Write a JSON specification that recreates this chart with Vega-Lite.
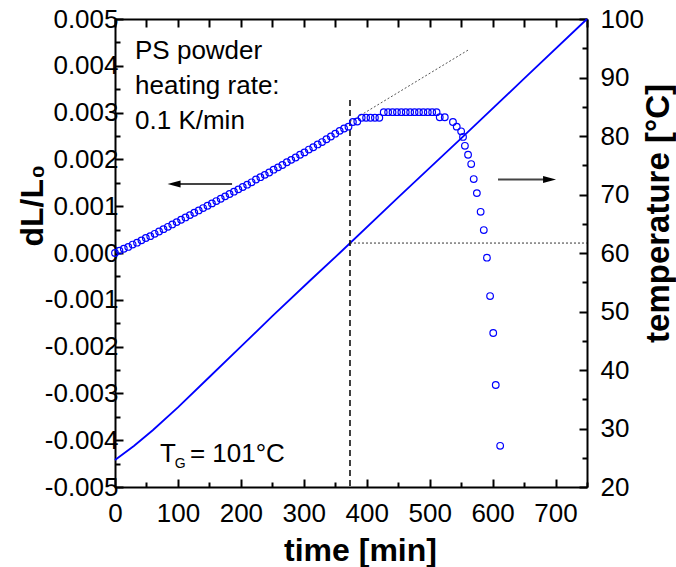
{
  "$schema": "https://vega.github.io/schema/vega-lite/v6.json",
  "width": 472,
  "height": 468,
  "autosize": {"type": "none"},
  "padding": {"left": 115, "top": 19, "right": 89, "bottom": 80},
  "background": "white",
  "config": {
    "view": {"stroke": null},
    "axis": {
      "labelFont": "Liberation Sans",
      "titleFont": "Liberation Sans",
      "labelFontSize": 26,
      "labelColor": "black",
      "titleColor": "black",
      "domainColor": "black",
      "tickColor": "black",
      "domainWidth": 2,
      "tickWidth": 2,
      "grid": false
    },
    "text": {"font": "Liberation Sans"}
  },
  "datasets": {
    "dl": [
      {"t": 0, "d": 0.0}, {"t": 7, "d": 0.00005}, {"t": 14, "d": 0.00009}, {"t": 21, "d": 0.00013},
      {"t": 28, "d": 0.00018}, {"t": 35, "d": 0.00022}, {"t": 42, "d": 0.00027}, {"t": 49, "d": 0.00032},
      {"t": 56, "d": 0.00036}, {"t": 63, "d": 0.00041}, {"t": 70, "d": 0.00046}, {"t": 77, "d": 0.00051},
      {"t": 84, "d": 0.00056}, {"t": 91, "d": 0.00061}, {"t": 98, "d": 0.00066}, {"t": 105, "d": 0.00071},
      {"t": 112, "d": 0.00076}, {"t": 119, "d": 0.00081}, {"t": 126, "d": 0.00086}, {"t": 133, "d": 0.00091},
      {"t": 140, "d": 0.00096}, {"t": 147, "d": 0.00101}, {"t": 154, "d": 0.00106}, {"t": 161, "d": 0.00111},
      {"t": 168, "d": 0.00116}, {"t": 175, "d": 0.00121}, {"t": 182, "d": 0.00126}, {"t": 189, "d": 0.00131},
      {"t": 196, "d": 0.00136}, {"t": 203, "d": 0.00141}, {"t": 210, "d": 0.00146}, {"t": 217, "d": 0.00151},
      {"t": 224, "d": 0.00157}, {"t": 231, "d": 0.00162}, {"t": 238, "d": 0.00167}, {"t": 245, "d": 0.00172},
      {"t": 252, "d": 0.00178}, {"t": 259, "d": 0.00183}, {"t": 266, "d": 0.00188}, {"t": 273, "d": 0.00194},
      {"t": 280, "d": 0.00199}, {"t": 287, "d": 0.00204}, {"t": 294, "d": 0.0021}, {"t": 301, "d": 0.00215},
      {"t": 308, "d": 0.00221}, {"t": 315, "d": 0.00226}, {"t": 322, "d": 0.00232}, {"t": 329, "d": 0.00237},
      {"t": 336, "d": 0.00243}, {"t": 343, "d": 0.00249}, {"t": 350, "d": 0.00255}, {"t": 357, "d": 0.00261},
      {"t": 364, "d": 0.00266}, {"t": 371, "d": 0.0027}, {"t": 378, "d": 0.0028}, {"t": 385, "d": 0.00281},
      {"t": 392, "d": 0.00289}, {"t": 399, "d": 0.00289}, {"t": 406, "d": 0.00289}, {"t": 413, "d": 0.00289},
      {"t": 420, "d": 0.00289}, {"t": 427, "d": 0.00301}, {"t": 434, "d": 0.00301}, {"t": 441, "d": 0.00301},
      {"t": 448, "d": 0.00301}, {"t": 455, "d": 0.00301}, {"t": 462, "d": 0.00301}, {"t": 469, "d": 0.00301},
      {"t": 476, "d": 0.00301}, {"t": 483, "d": 0.00301}, {"t": 490, "d": 0.00301}, {"t": 497, "d": 0.00301},
      {"t": 504, "d": 0.00301}, {"t": 511, "d": 0.00301}, {"t": 516, "d": 0.0029}, {"t": 524, "d": 0.0029},
      {"t": 537, "d": 0.0028}, {"t": 543, "d": 0.0027}, {"t": 550, "d": 0.0026}, {"t": 553, "d": 0.00248},
      {"t": 556, "d": 0.00229}, {"t": 561, "d": 0.0021}, {"t": 566, "d": 0.0019}, {"t": 570, "d": 0.00158},
      {"t": 575, "d": 0.00128}, {"t": 581, "d": 0.00088}, {"t": 586, "d": 0.00049}, {"t": 591, "d": -0.0001},
      {"t": 596, "d": -0.00092}, {"t": 601, "d": -0.00171}, {"t": 605, "d": -0.00282}, {"t": 612, "d": -0.00412}
    ],
    "temp": [
      {"t": 0, "T": 24.6}, {"t": 30, "T": 27.0}, {"t": 60, "T": 29.7}, {"t": 100, "T": 33.6},
      {"t": 150, "T": 38.8}, {"t": 200, "T": 44.0}, {"t": 250, "T": 49.2}, {"t": 310, "T": 55.3},
      {"t": 357, "T": 60.0}, {"t": 450, "T": 69.5}, {"t": 550, "T": 79.6}, {"t": 650, "T": 89.8},
      {"t": 750, "T": 100.0}
    ]
  },
  "layer": [
    {
      "data": {"name": "temp"},
      "mark": {"type": "line", "color": "#0000ff", "strokeWidth": 1.8},
      "encoding": {
        "x": {"field": "t", "type": "quantitative", "scale": {"domain": [0, 750], "nice": false, "zero": false},
          "axis": {"orient": "top", "values": [0, 50, 100, 150, 200, 250, 300, 350, 400, 450, 500, 550, 600, 650, 700, 750],
            "tickSize": -8, "labels": false, "title": null}},
        "y": {"field": "T", "type": "quantitative", "scale": {"domain": [20, 100], "nice": false, "zero": false},
          "axis": {"orient": "right", "values": [20, 30, 40, 50, 60, 70, 80, 90, 100], "tickSize": -8,
            "labelPadding": 21, "labelFlush": false, "labelOverlap": false,
            "title": "temperature [°C]", "titleFontSize": 33, "titleFontWeight": "bold", "titleAngle": -90,
            "titleX": 81, "titleY": 194, "titleBaseline": "alphabetic", "titleAlign": "center"}}
      }
    },
    {
      "data": {"values": [{"t": 373.4, "d1": 0.00327, "d2": -0.005}]},
      "mark": {"type": "rule", "strokeDash": [6, 4], "strokeWidth": 1.5, "color": "black"},
      "encoding": {
        "x": {"field": "t", "type": "quantitative", "scale": {"domain": [0, 750], "nice": false, "zero": false},
          "axis": {"orient": "bottom", "values": [50, 150, 250, 350, 450, 550, 650, 750], "tickSize": -5,
            "labels": false, "domain": false, "title": null}},
        "y": {"field": "d1", "type": "quantitative", "scale": {"domain": [-0.005, 0.005], "nice": false, "zero": false},
          "axis": {"orient": "left", "values": [-0.0045, -0.0035, -0.0025, -0.0015, -0.0005, 0.0005, 0.0015, 0.0025, 0.0035, 0.0045],
            "tickSize": -5, "labels": false, "domain": false, "title": null}},
        "y2": {"field": "d2"}
      }
    },
    {
      "data": {"values": [{"t1": 373.4, "t2": 750, "T": 61.7}]},
      "mark": {"type": "rule", "strokeDash": [2, 2], "strokeWidth": 1, "color": "#333333"},
      "encoding": {
        "x": {"field": "t1", "type": "quantitative", "scale": {"domain": [0, 750], "nice": false, "zero": false}, "axis": null},
        "x2": {"field": "t2"},
        "y": {"field": "T", "type": "quantitative", "scale": {"domain": [20, 100], "nice": false, "zero": false},
          "axis": {"orient": "right", "values": [25, 35, 45, 55, 65, 75, 85, 95], "tickSize": -5,
            "labels": false, "domain": false, "title": null}}
      }
    },
    {
      "data": {"values": [{"t": 373.4, "d": 0.002806}, {"t": 561.3, "d": 0.004338}]},
      "mark": {"type": "line", "strokeDash": [2, 2], "strokeWidth": 1, "color": "#555555"},
      "encoding": {
        "x": {"field": "t", "type": "quantitative", "scale": {"domain": [0, 750], "nice": false, "zero": false}, "axis": null},
        "y": {"field": "d", "type": "quantitative", "scale": {"domain": [-0.005, 0.005], "nice": false, "zero": false}, "axis": null}
      }
    },
    {
      "data": {"name": "dl"},
      "mark": {"type": "point", "shape": "circle", "filled": false, "stroke": "#0000ff", "strokeWidth": 1.2, "size": 44, "opacity": 1},
      "encoding": {
        "x": {"field": "t", "type": "quantitative", "scale": {"domain": [0, 750], "nice": false, "zero": false},
          "axis": {"orient": "bottom", "values": [0, 100, 200, 300, 400, 500, 600, 700], "tickSize": -8,
            "labelPadding": 42, "labelBaseline": "alphabetic", "labelFlush": false, "labelOverlap": false,
            "title": "time [min]", "titleFontSize": 32, "titleFontWeight": "bold",
            "titleX": 245, "titleY": 73, "titleBaseline": "alphabetic", "titleAlign": "center"}},
        "y": {"field": "d", "type": "quantitative", "scale": {"domain": [-0.005, 0.005], "nice": false, "zero": false},
          "axis": {"orient": "left", "values": [-0.005, -0.004, -0.003, -0.002, -0.001, 0, 0.001, 0.002, 0.003, 0.004, 0.005],
            "format": ".3f", "labelExpr": "replace(datum.label, '\u2212', '-')",
            "tickSize": -8, "labelPadding": 5, "labelFlush": false, "labelOverlap": false,
            "title": "dL/L₀", "titleFontSize": 32, "titleFontWeight": "bold", "titleAngle": -90,
            "titleX": -73, "titleY": 186, "titleBaseline": "alphabetic", "titleAlign": "center"}}
      }
    },
    {
      "data": {"values": [{"t1": 95, "t2": 186, "d": 0.001474}, {"t1": 608.6, "t2": 690, "d": 0.00157}]},
      "mark": {"type": "rule", "strokeWidth": 1.8, "color": "#444444"},
      "encoding": {
        "x": {"field": "t1", "type": "quantitative", "scale": {"domain": [0, 750], "nice": false, "zero": false}, "axis": null},
        "x2": {"field": "t2"},
        "y": {"field": "d", "type": "quantitative", "scale": {"domain": [-0.005, 0.005], "nice": false, "zero": false}, "axis": null}
      }
    },
    {
      "data": {"values": [{"t": 93.8, "d": 0.001474, "dir": "left"}, {"t": 690.5, "d": 0.00157, "dir": "right"}]},
      "mark": {"type": "point", "filled": true, "color": "black", "size": 169, "opacity": 1},
      "encoding": {
        "x": {"field": "t", "type": "quantitative", "scale": {"domain": [0, 750], "nice": false, "zero": false}, "axis": null},
        "y": {"field": "d", "type": "quantitative", "scale": {"domain": [-0.005, 0.005], "nice": false, "zero": false}, "axis": null},
        "shape": {"field": "dir", "type": "nominal",
          "scale": {"domain": ["left", "right"], "range": ["M-1,0L1,-0.55L1,0.55Z", "M1,0L-1,-0.55L-1,0.55Z"]},
          "legend": null}
      }
    },
    {
      "data": {"values": [
        {"t": 31.8, "d": 0.00414, "label": "PS powder"},
        {"t": 31.8, "d": 0.0034, "label": "heating rate:"},
        {"t": 31.8, "d": 0.00265, "label": "0.1 K/min"},
        {"t": 71.5, "d": -0.00447, "label": "T"},
        {"t": 119, "d": -0.00447, "label": "= 101°C"}
      ]},
      "mark": {"type": "text", "align": "left", "baseline": "alphabetic", "fontSize": 26, "font": "Liberation Sans", "color": "black"},
      "encoding": {
        "x": {"field": "t", "type": "quantitative", "scale": {"domain": [0, 750], "nice": false, "zero": false}, "axis": null},
        "y": {"field": "d", "type": "quantitative", "scale": {"domain": [-0.005, 0.005], "nice": false, "zero": false}, "axis": null},
        "text": {"field": "label"}
      }
    },
    {
      "data": {"values": [{"t": 95, "d": -0.00459, "label": "G"}]},
      "mark": {"type": "text", "align": "left", "baseline": "alphabetic", "fontSize": 14, "font": "Liberation Sans", "color": "black"},
      "encoding": {
        "x": {"field": "t", "type": "quantitative", "scale": {"domain": [0, 750], "nice": false, "zero": false}, "axis": null},
        "y": {"field": "d", "type": "quantitative", "scale": {"domain": [-0.005, 0.005], "nice": false, "zero": false}, "axis": null},
        "text": {"field": "label"}
      }
    }
  ],
  "resolve": {"scale": {"y": "independent"}, "axis": {"x": "independent", "y": "independent"}}
}
